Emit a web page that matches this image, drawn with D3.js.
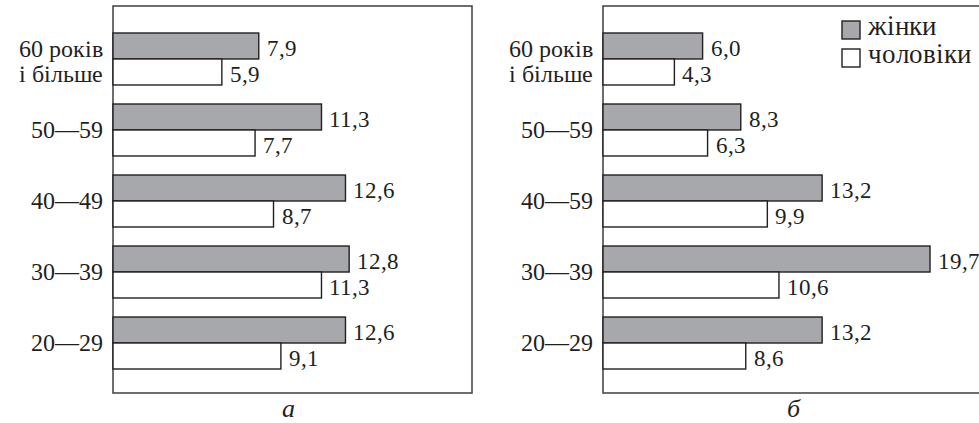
<html>
<head>
<meta charset="utf-8">
<script src="https://d3js.org/d3.v7.min.js"></script>
<style>
    @font-face { font-family: "BookSerif"; src: local("Liberation Serif"), local("LiberationSerif"); font-style: normal; }
    @font-face { font-family: "BookSerif"; src: local("Liberation Serif Italic"), local("LiberationSerif-Italic"); font-style: italic; }
</style>
</head>
<body style="margin:0">
<svg id="chart"></svg>
<script>
    // data
    const ageGroups = ["60 років\nі більше", "50—59", "40—49", "30—39", "20—29"];
    const ageGroupsB = ["60 років\nі більше", "50—59", "40—59", "30—39", "20—29"];
    const series = ["жінки", "чоловіки"];
    const womenA = [7.9, 11.3, 12.6, 12.8, 12.6];
    const menA = [5.9, 7.7, 8.7, 11.3, 9.1];
    const womenB = [6.0, 8.3, 13.2, 19.7, 13.2];
    const menB = [4.3, 6.3, 9.9, 10.6, 8.6];
    const panelNames = ["а", "б"];

    const width = 979;
    const height = 423;
    const fontName = "BookSerif, Liberation Serif";
    let svg = d3.select("#chart")
                .attr("width", width)
                .attr("height", height)
                .attr("font-family", fontName);

    const fills = {"жінки": "#a7a8ab", "чоловіки": "#ffffff"};
    const ink = "#231f20";
    const fmt = v => v.toFixed(1).replace(".", ",");

    // one panel
    function drawPanel(left, right, pxPerUnit, cats, women, men, name) {
        const top = 6, bottom = 393;

        svg.append("rect")
           .attr("x", left)
           .attr("y", top)
           .attr("width", right - left)
           .attr("height", bottom - top)
           .attr("fill", "none")
           .attr("stroke", "#4a4a4a")
           .attr("stroke-width", 1.6);

        const xScale = d3.scaleLinear()
                         .domain([0, 10])
                         .range([left, left + 10 * pxPerUnit]);
        const yScale = d3.scaleBand()
                         .domain(cats)
                         .range([33, 369])
                         .paddingInner(0.268)
                         .paddingOuter(0);
        const ySub = d3.scaleBand()
                       .domain(series)
                       .range([0, yScale.bandwidth()]);

        let rows = [];
        cats.forEach((c, i) => {
            rows.push({cat: c, s: "жінки", v: women[i]});
            rows.push({cat: c, s: "чоловіки", v: men[i]});
        });

        svg.selectAll(null)
           .data(rows)
           .join("rect")
           .attr("x", xScale(0))
           .attr("y", d => yScale(d.cat) + ySub(d.s))
           .attr("width", d => xScale(d.v) - xScale(0))
           .attr("height", ySub.bandwidth())
           .attr("fill", d => fills[d.s])
           .attr("stroke", ink)
           .attr("stroke-width", 1.4);

        svg.selectAll(null)
           .data(rows)
           .join("text")
           .attr("x", d => xScale(d.v) + 8)
           .attr("y", d => yScale(d.cat) + ySub(d.s) + ySub.bandwidth() / 2 + 10)
           .attr("font-size", 23)
           .attr("fill", ink)
           .text(d => fmt(d.v));

        // category labels
        cats.forEach(c => {
            const lines = c.split("\n");
            const mid = yScale(c) + yScale.bandwidth() / 2;
            lines.forEach((line, j) => {
                svg.append("text")
                   .attr("x", left - 10)
                   .attr("y", lines.length == 1 ? mid + 8 : mid - 2 + j * 25)
                   .attr("text-anchor", "end")
                   .attr("font-size", 24)
                   .attr("fill", ink)
                   .text(line);
            });
        });

        svg.append("text")
           .attr("x", (left + right) / 2 - 4)
           .attr("y", 417)
           .attr("text-anchor", "middle")
           .attr("font-size", 26)
           .attr("font-style", "italic")
           .attr("fill", ink)
           .text(name);
    }

    drawPanel(113, 472, 18.45, ageGroups, womenA, menA, panelNames[0]);
    drawPanel(603, 991, 16.6, ageGroupsB, womenB, menB, panelNames[1]);

    // legend
    series.forEach((s, i) => {
        svg.append("rect")
           .attr("x", 842)
           .attr("y", 21 + i * 28)
           .attr("width", 18)
           .attr("height", 18)
           .attr("fill", fills[s])
           .attr("stroke", ink)
           .attr("stroke-width", 1.4);
        svg.append("text")
           .attr("x", 868)
           .attr("y", 35 + i * 28)
           .attr("font-size", 27)
           .attr("fill", ink)
           .text(s);
    });
</script>
</body>
</html>
